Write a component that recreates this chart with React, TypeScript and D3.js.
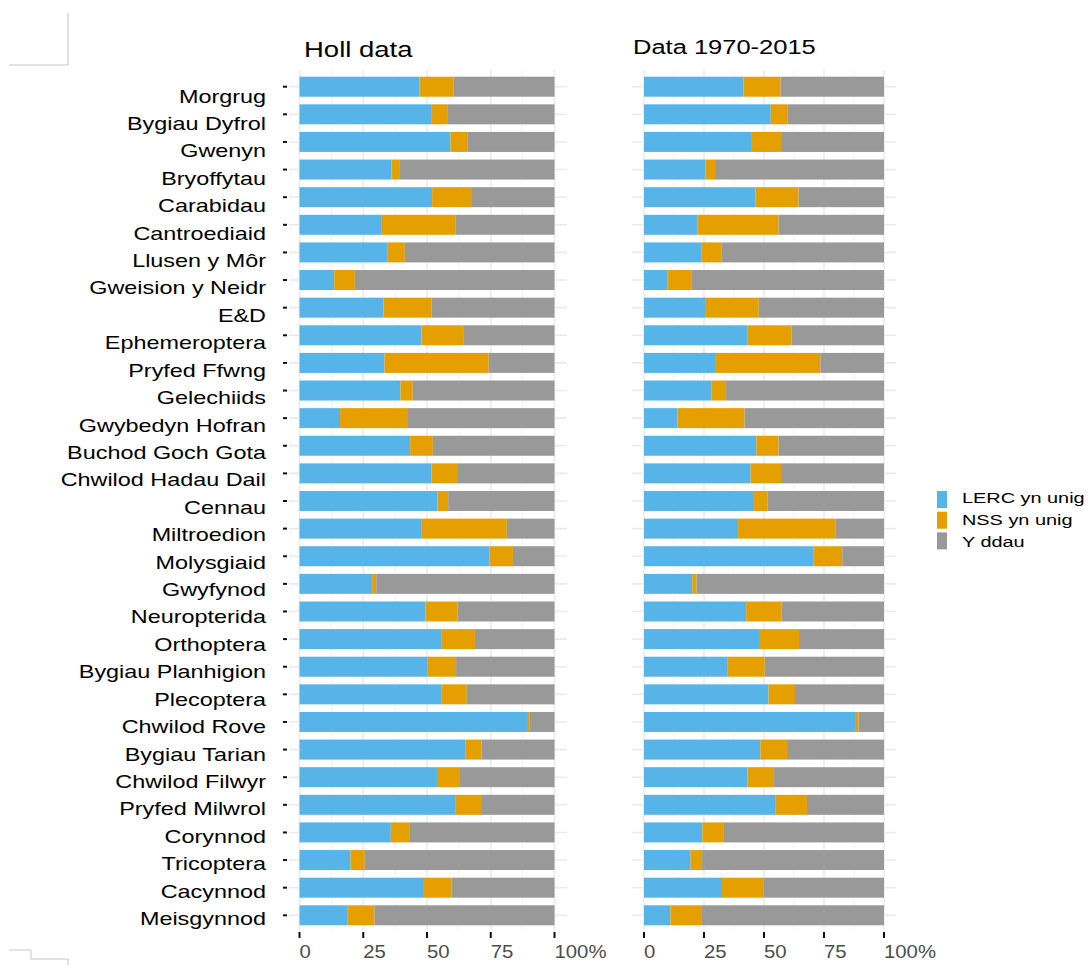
import React from "react";
import * as d3 from "d3";

const categories = [
  "Morgrug", "Bygiau Dyfrol", "Gwenyn", "Bryoffytau", "Carabidau", "Cantroediaid",
  "Llusen y Môr", "Gweision y Neidr", "E&D", "Ephemeroptera", "Pryfed Ffwng",
  "Gelechiids", "Gwybedyn Hofran", "Buchod Goch Gota", "Chwilod Hadau Dail",
  "Cennau", "Miltroedion", "Molysgiaid", "Gwyfynod", "Neuropterida", "Orthoptera",
  "Bygiau Planhigion", "Plecoptera", "Chwilod Rove", "Bygiau Tarian",
  "Chwilod Filwyr", "Pryfed Milwrol", "Corynnod", "Tricoptera", "Cacynnod", "Meisgynnod",
];

// Holl data
const lercAll = [47.1, 51.9, 59.2, 36.1, 52.0, 32.3, 34.4, 13.6, 32.9, 47.8, 33.3, 39.6, 15.9, 43.4, 51.8, 54.1, 47.7, 74.5, 28.5, 49.4, 55.8, 50.3, 55.8, 89.2, 65.0, 53.9, 61.3, 35.8, 20.0, 48.8, 18.7];
const nssAll = [13.4, 6.3, 6.6, 3.0, 15.3, 29.0, 6.9, 8.1, 18.9, 16.4, 40.9, 4.8, 26.3, 8.9, 10.0, 4.2, 33.6, 9.2, 1.6, 12.6, 13.0, 11.1, 9.8, 0.9, 6.4, 8.7, 9.9, 7.2, 5.6, 10.8, 10.7];
const bothAll = [39.5, 41.8, 34.2, 60.9, 32.7, 38.7, 58.7, 78.3, 48.2, 35.8, 25.8, 55.6, 57.8, 47.7, 38.2, 41.7, 18.7, 16.3, 69.9, 38.0, 31.2, 38.6, 34.4, 9.9, 28.6, 37.4, 28.8, 57.0, 74.4, 40.4, 70.6];

// Data 1970-2015
const lercRecent = [41.5, 52.8, 44.6, 25.6, 46.5, 22.2, 23.8, 9.7, 25.8, 43.2, 29.6, 28.2, 14.0, 46.8, 44.4, 45.8, 39.2, 70.7, 20.1, 42.6, 47.9, 34.9, 51.9, 88.3, 48.5, 43.1, 54.9, 24.3, 19.4, 32.5, 11.0];
const nssRecent = [15.4, 6.9, 12.9, 4.0, 17.9, 33.9, 8.4, 10.0, 22.0, 18.3, 43.9, 6.0, 27.9, 9.3, 12.7, 5.6, 40.7, 11.9, 1.8, 14.8, 16.7, 15.4, 11.0, 1.1, 11.1, 11.1, 13.0, 9.0, 4.8, 17.2, 12.8];
const bothRecent = [43.1, 40.3, 42.5, 70.4, 35.6, 43.9, 67.8, 80.3, 52.2, 38.5, 26.5, 65.8, 58.1, 43.9, 42.9, 48.6, 20.1, 17.4, 78.1, 42.6, 35.4, 49.7, 37.1, 10.6, 40.4, 45.8, 32.1, 66.7, 75.8, 50.3, 76.2];

const seriesKeys = ["lerc", "nss", "both"];
const legendLabels = ["LERC yn unig", "NSS yn unig", "Y ddau"];
const seriesColors = ["#56B4E9", "#E69F00", "#999999"];
const xTicks = [0, 25, 50, 75, 100];
const xTickLabels = ["0", "25", "50", "75", "100%"];
const minorTicks = [12.5, 37.5, 62.5, 87.5];

const FONT = "'Liberation Sans', Arial, Helvetica, sans-serif";

function buildRows(lerc: number[], nss: number[], both: number[]) {
  return categories.map((c, i) => ({ cat: c, lerc: lerc[i], nss: nss[i], both: both[i] }));
}

const panels = [
  { title: "Holl data", rows: buildRows(lercAll, nssAll, bothAll), x0: 299.5, x1: 554.5, gl: 289, gr: 567, tx: 304, ty: 57, tsize: 22, yTicks: true },
  { title: "Data 1970-2015", rows: buildRows(lercRecent, nssRecent, bothRecent), x0: 644, x1: 884, gl: 632, gr: 896, tx: 633, ty: 54, tsize: 20.4, yTicks: false },
];

const yCenter = d3.scalePoint<string>().domain(categories).range([86.7, 915.3]);
const yLabel = d3.scalePoint<string>().domain(categories).range([102.5, 925]);
const BAR_H = 20;
const PANEL_TOP = 70;
const PANEL_BOTTOM = 930;

function Panel({ p }: { p: typeof panels[number] }) {
  const x = d3.scaleLinear().domain([0, 100]).range([p.x0, p.x1]);
  const stacked = d3.stack<any>().keys(seriesKeys)(p.rows as any);
  return (
    <g>
      {minorTicks.map((t) => (
        <line key={"mn" + t} x1={x(t)} x2={x(t)} y1={PANEL_TOP} y2={PANEL_BOTTOM} stroke="#f3f3f3" strokeWidth={1} />
      ))}
      {xTicks.map((t) => (
        <line key={"mj" + t} x1={x(t)} x2={x(t)} y1={PANEL_TOP} y2={PANEL_BOTTOM} stroke="#ebebeb" strokeWidth={1.6} />
      ))}
      {categories.map((c) => (
        <line key={"hg" + c} x1={p.gl} x2={p.gr} y1={yCenter(c)} y2={yCenter(c)} stroke="#ebebeb" strokeWidth={1.6} />
      ))}
      {stacked.map((s, si) => (
        <g key={s.key} fill={seriesColors[si]}>
          {s.map((d: any) => (
            <rect
              key={d.data.cat}
              x={x(d[0])}
              width={Math.max(0, x(d[1]) - x(d[0]))}
              y={(yCenter(d.data.cat) as number) - BAR_H / 2}
              height={BAR_H}
            />
          ))}
        </g>
      ))}
      {p.yTicks &&
        categories.map((c) => (
          <line key={"yt" + c} x1={283} x2={287} y1={yCenter(c)} y2={yCenter(c)} stroke="#111" strokeWidth={2} />
        ))}
      {xTicks.map((t, i) => (
        <g key={"xt" + t}>
          <line x1={x(t)} x2={x(t)} y1={932} y2={938} stroke="#111" strokeWidth={2} />
          <text
            transform={`translate(${x(t)},958) scale(1.13,1)`}
            fontSize={18}
            fill="#4d4d4d"
            fontFamily={FONT}
          >
            {xTickLabels[i]}
          </text>
        </g>
      ))}
      <text transform={`translate(${p.tx},${p.ty}) scale(1.25,1)`} fontSize={p.tsize} fill="#000" fontFamily={FONT}>
        {p.title}
      </text>
    </g>
  );
}

export default function App() {
  return (
    <svg
      width={1090}
      height={965}
      style={{ position: "absolute", left: 0, top: 0, background: "#fff" }}
      fontFamily={FONT}
    >
      <rect x={0} y={0} width={1090} height={965} fill="#fff" />
      {/* crop marks */}
      <path d="M68,13 V65 H9" fill="none" stroke="#c6c6c6" strokeWidth={1} />
      <path d="M9,950 H31 V959 H68 V965" fill="none" stroke="#c6c6c6" strokeWidth={1} />

      {categories.map((c) => (
        <text
          key={"lab" + c}
          transform={`translate(266,${yLabel(c)}) scale(1.3,1)`}
          textAnchor="end"
          fontSize={18}
          fill="#000"
        >
          {c}
        </text>
      ))}

      {panels.map((p) => (
        <Panel key={p.title} p={p} />
      ))}

      {legendLabels.map((l, i) => (
        <g key={l}>
          <rect x={937} y={491 + i * 20.7} width={10} height={17} fill={seriesColors[i]} />
          <text transform={`translate(962,${503.3 + i * 21.7}) scale(1.3,1)`} fontSize={15.3} fill="#000">
            {l}
          </text>
        </g>
      ))}
    </svg>
  );
}
